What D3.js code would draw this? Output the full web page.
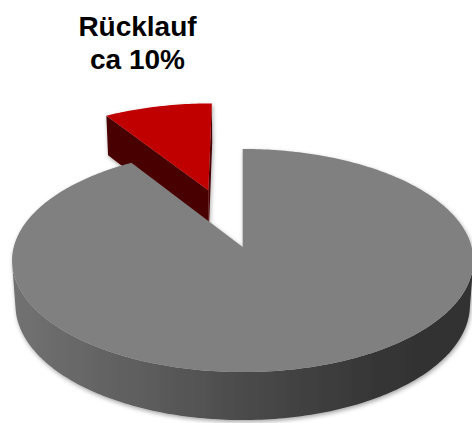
<!DOCTYPE html>
<html>
<head>
<meta charset="utf-8">
<script src="https://cdn.jsdelivr.net/npm/d3@7"></script>
<style>
  html, body { margin: 0; padding: 0; background: #ffffff; }
  svg { display: block; }
</style>
</head>
<body>
<svg id="chart" width="472" height="423"></svg>
<script>
// ---- data ----
const categories = ["Sonstige", "Rücklauf"];
const values = [91, 9];
const labelLines = ["Rücklauf", "ca 10%"];

// ---- style / geometry ----
const W = 472, H = 423;
const topColors = ["#808080", "#c00000"];
const faceColors = ["#555555", "#4a0000"];
const explode = [0, 0.574];          // in radii
const cx = 242.7, cy = 247;          // projected pie centre
const fLen = 1660, camD = 7.25;      // perspective
const tilt = 28.7 * Math.PI / 180;
const cT = Math.cos(tilt), sT = Math.sin(tilt);
const thick = 0.2227;

const svg = d3.select("#chart");
const defs = svg.append("defs");

const grad = defs.append("linearGradient").attr("id", "wallGrey")
  .attr("gradientUnits", "userSpaceOnUse").attr("x1", 12).attr("x2", 472).attr("y1", 0).attr("y2", 0);
[[0, "#727272"], [0.3, "#5c5c5c"], [0.55, "#474747"], [0.8, "#353535"], [1, "#303030"]]
  .forEach(([o, col]) => grad.append("stop").attr("offset", o).attr("stop-color", col));

const shadow = defs.append("filter").attr("id", "shadow")
  .attr("x", "-10%").attr("y", "-10%").attr("width", "120%").attr("height", "130%");
shadow.append("feDropShadow").attr("dx", 1).attr("dy", 2).attr("stdDeviation", 2)
  .attr("flood-color", "#000").attr("flood-opacity", 0.35);

// radius scale (unit radius in model space)
const rScale = d3.scaleLinear().domain([0, 1]).range([0, 1]);
const R = rScale(1);

function project(X, Y, Z) {
  const dist = camD + Z * cT - Y * sT;
  const yup = Y * cT + Z * sT;
  return [cx + fLen * X / dist, cy - fLen * yup / dist];
}
const camPos = [0, camD * sT, -camD * cT];

const pie = d3.pie().sort(null).value(d => d)(values);
const line = d3.line();

const g = svg.append("g").attr("filter", "url(#shadow)");

const slices = pie.map((p, i) => {
  const mid = (p.startAngle + p.endAngle) / 2;
  return { p, i, ox: explode[i] * Math.sin(mid), oz: explode[i] * Math.cos(mid) };
}).sort((a, b) => b.oz - a.oz);

slices.forEach(sl => {
  const { p, i, ox, oz } = sl;
  const a0 = p.startAngle, a1 = p.endAngle;
  const n = Math.max(2, Math.ceil((a1 - a0) / (Math.PI / 180)));
  const angs = d3.range(n + 1).map(k => a0 + (a1 - a0) * k / n);
  const pt = (a, Y) => project(ox + R * Math.sin(a), Y, oz + R * Math.cos(a));
  const ctr = Y => project(ox, Y, oz);

  // radial faces
  const faces = [
    { a: a0, nrm: [-Math.cos(a0), 0, Math.sin(a0)] },
    { a: a1, nrm: [Math.cos(a1), 0, -Math.sin(a1)] }
  ];
  faces.forEach(fc => {
    const v = [camPos[0] - ox, camPos[1], camPos[2] - oz];
    const dot = fc.nrm[0] * v[0] + fc.nrm[2] * v[2];
    if (dot > 0.01) {
      g.append("path")
        .attr("d", line([ctr(0), pt(fc.a, 0), pt(fc.a, -thick), ctr(-thick)]) + "Z")
        .attr("fill", faceColors[i]);
    }
  });

  // outer wall (visible runs)
  const vis = angs.map(a => {
    const P = [ox + R * Math.sin(a), 0, oz + R * Math.cos(a)];
    const nrm = [Math.sin(a), 0, Math.cos(a)];
    return nrm[0] * (camPos[0] - P[0]) + nrm[2] * (camPos[2] - P[2]) > 0;
  });
  let run = [];
  const flush = () => {
    if (run.length > 1) {
      const topPts = run.map(a => pt(a, 0));
      const botPts = run.slice().reverse().map(a => pt(a, -thick));
      g.append("path").attr("d", line(topPts.concat(botPts)) + "Z")
        .attr("fill", i === 0 ? "url(#wallGrey)" : faceColors[i]);
    }
    run = [];
  };
  angs.forEach((a, k) => { if (vis[k]) run.push(a); else flush(); });
  flush();

  // top face
  const topPath = [ctr(0)].concat(angs.map(a => pt(a, 0)));
  g.append("path").attr("d", line(topPath) + "Z").attr("fill", topColors[i]);
});

// label
const lbl = svg.append("text")
  .attr("x", 137.5).attr("text-anchor", "middle")
  .attr("font-family", "'Liberation Sans', Arial, sans-serif")
  .attr("font-weight", "bold").attr("font-size", 28).attr("fill", "#000");
labelLines.forEach((t, k) => lbl.append("tspan").attr("x", 137.5).attr("y", 36 + k * 33).text(t));
</script>
</body>
</html>
